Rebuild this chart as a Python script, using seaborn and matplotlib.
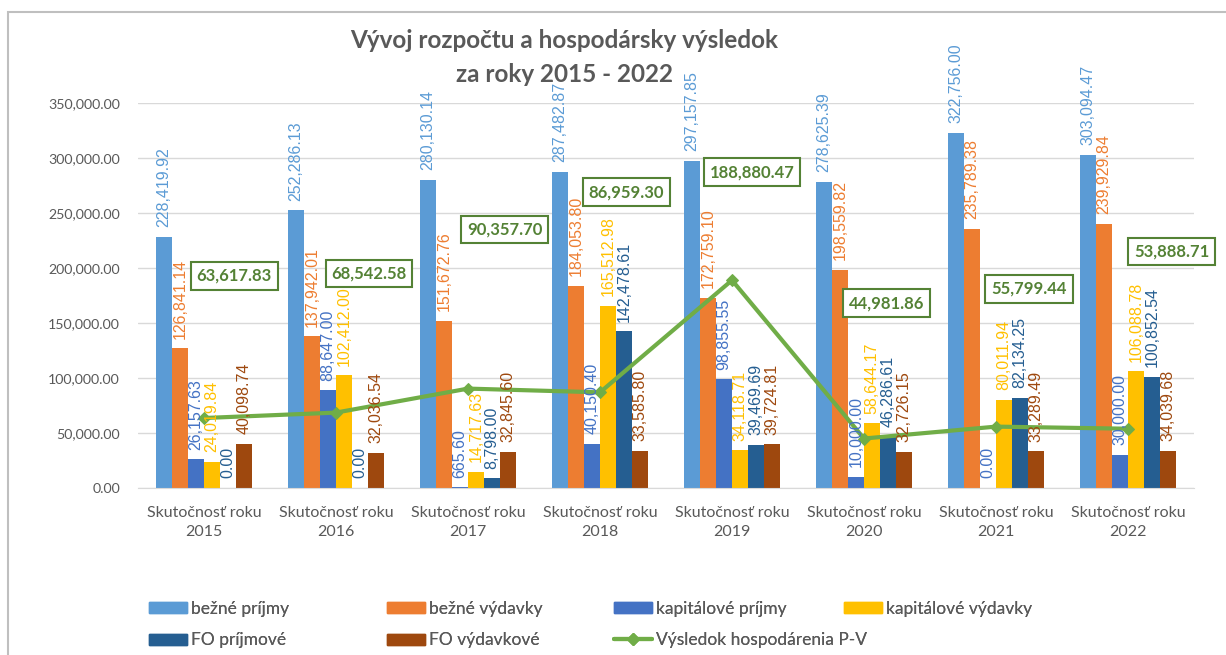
import numpy as np
import pandas as pd
import seaborn as sns
import matplotlib.pyplot as plt
from matplotlib.patches import Rectangle
from matplotlib.lines import Line2D

years = ["2015", "2016", "2017", "2018", "2019", "2020", "2021", "2022"]
categories = [f"Skutočnosť roku\n{y}" for y in years]

bezne_prijmy = [228419.92, 252286.13, 280130.14, 287482.87, 297157.85, 278625.39, 322756.00, 303094.47]
bezne_vydavky = [126841.14, 137942.01, 151672.76, 184053.80, 172759.10, 198559.82, 235789.38, 239929.84]
kapitalove_prijmy = [26157.63, 88647.00, 665.60, 40150.40, 98855.55, 10000.00, 0.00, 30000.00]
kapitalove_vydavky = [24019.84, 102412.00, 14717.63, 165512.98, 34118.71, 58644.17, 80011.94, 106088.78]
fo_prijmove = [0.00, 0.00, 8798.00, 142478.61, 39469.69, 46286.61, 82134.25, 100852.54]
fo_vydavkove = [40098.74, 32036.54, 32845.60, 33585.80, 39724.81, 32726.15, 33289.49, 34039.68]
vysledok = [63617.83, 68542.58, 90357.70, 86959.30, 188880.47, 44981.86, 55799.44, 53888.71]

series_names = ["bežné príjmy", "bežné výdavky", "kapitálové príjmy",
                "kapitálové výdavky", "FO príjmové", "FO výdavkové"]
series_values = [bezne_prijmy, bezne_vydavky, kapitalove_prijmy,
                 kapitalove_vydavky, fo_prijmove, fo_vydavkove]
colors = ["#5B9BD5", "#ED7D31", "#4472C4", "#FFC000", "#255E91", "#9E480E"]
line_color = "#70AD47"
box_color = "#548235"

# where the boxed result labels sit (category offset, y value)
result_label_pos = [(0.23, 193000), (0.25, 195000), (0.28, 235000), (0.2, 269000),
                    (0.15, 287000), (0.17, 168000), (0.25, 181000), (0.33, 215000)]

rows = []
for name, vals in zip(series_names, series_values):
    for cat, v in zip(categories, vals):
        rows.append({"kategoria": cat, "seria": name, "hodnota": v})
df = pd.DataFrame(rows)

sns.set_style("white")
plt.rcParams["font.family"] = ["Lato", "DejaVu Sans"]

fig = plt.figure(figsize=(12.26, 6.55), dpi=100)
ax = fig.add_axes([138 / 1226, 1 - 488 / 655, (1194 - 138) / 1226, (488 - 103) / 655])

sns.barplot(data=df, x="kategoria", y="hodnota", hue="seria", palette=colors,
            width=0.73, saturation=1, ax=ax, legend=False, edgecolor="none")

for cont, col in zip(ax.containers, colors):
    ax.bar_label(cont, fmt="{:,.2f}", rotation=90, padding=7, color=col,
                 fontsize=11.5, family=["Liberation Sans", "DejaVu Sans"])

xs = np.arange(len(categories))
sns.lineplot(x=xs, y=vysledok, color=line_color, lw=3, marker="D", markersize=6,
             markeredgecolor=line_color, ax=ax, legend=False)

for i, (v, (dx, ly)) in enumerate(zip(vysledok, result_label_pos)):
    ax.text(i + dx, ly, f"{v:,.2f}", ha="center", va="center", fontsize=12,
            fontweight="bold", color=box_color,
            bbox=dict(boxstyle="square,pad=0.35", fc="white", ec=box_color, lw=1.5))

ax.set_ylim(0, 350000)
ax.set_xlim(-0.5, 7.5)
ax.set_yticks(np.arange(0, 350001, 50000))
ax.set_yticklabels([f"{t:,.2f}" for t in np.arange(0, 350001, 50000)])
ax.yaxis.grid(True, color="#D9D9D9", lw=1)
ax.set_axisbelow(True)
for s in ["top", "right", "left"]:
    ax.spines[s].set_visible(False)
ax.spines["bottom"].set_color("#D9D9D9")
ax.tick_params(axis="y", length=0, colors="#595959", labelsize=10.2, pad=13)
ax.tick_params(axis="x", length=0, colors="#595959", labelsize=11.5, pad=13)
for t in ax.get_xticklabels():
    t.set_linespacing(1.45)
ax.set_xlabel("")
ax.set_ylabel("")

title_lines = ["Vývoj rozpočtu a hospodársky výsledok", "za roky 2015 - 2022"]
for line, ypx in zip(title_lines, [40, 74]):
    fig.text(564 / 1226, 1 - ypx / 655, line, ha="center", va="center", fontsize=17.5,
             fontweight="bold", color="#595959")

handles = [Rectangle((0, 0), 1, 1, color=c) for c in colors]
handles.append(Line2D([0], [0], color=line_color, lw=3, marker="D", markersize=6))
labels = series_names + ["Výsledok hospodárenia P-V"]
columns = [[0, 4], [1, 5], [2, 6], [3]]
col_x = [140, 378, 605, 835]
for idx, x0 in zip(columns, col_x):
    leg = fig.legend([handles[i] for i in idx], [labels[i] for i in idx], ncol=1,
                     loc="upper left", bbox_to_anchor=(x0 / 1226, 1 - 592 / 655),
                     frameon=False, fontsize=12.5, labelcolor="#595959",
                     handlelength=2.2, handleheight=0.6, labelspacing=0.9,
                     handletextpad=0.25, borderpad=0)
    fig.add_artist(leg)

fig.add_artist(Rectangle((8 / 1226, -0.05), 1.1, 1 - 12 / 655 + 0.05, transform=fig.transFigure,
                         fill=False, ec="#BFBFBF", lw=1.5))

fig.savefig("out.png", dpi=100)
